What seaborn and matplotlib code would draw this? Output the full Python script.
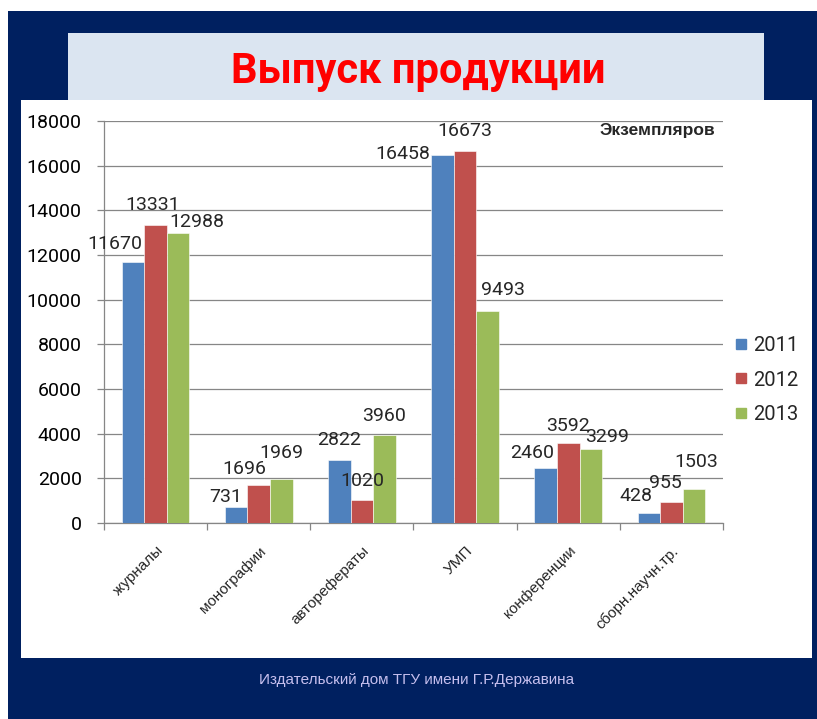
import pandas as pd
import matplotlib
matplotlib.use("Agg")
import matplotlib.pyplot as plt
from matplotlib.patches import Rectangle
from matplotlib.lines import Line2D
import seaborn as sns

categories = ["журналы", "монографии", "авторефераты", "УМП", "конференции", "сборн.научн.тр."]
years = ["2011", "2012", "2013"]
v2011 = [11670, 731, 2822, 16458, 2460, 428]
v2012 = [13331, 1696, 1020, 16673, 3592, 955]
v2013 = [12988, 1969, 3960, 9493, 3299, 1503]
yticks = list(range(0, 18001, 2000))

colors = ["#4f81bd", "#c0504d", "#9bbb59"]
navy = "#002060"

# label offsets in pixels (dx, dy above bar top), as laid out in the original
offsets = {
    "2011": [(-18, 18), (-11, 10), (0, 20), (-40, 1), (-14, 15), (-13, 17)],
    "2012": [(-3, 20), (-14, 16), (0, 19), (0, 20), (0, 17), (-6, 19)],
    "2013": [(19, 11), (0, 26), (0, 19), (15, 21), (16, 12), (2, 27)],
}

df = pd.DataFrame({
    "cat": categories * 3,
    "year": [y for y in years for _ in categories],
    "value": v2011 + v2012 + v2013,
})

sns.set_style("white")
narrow = ["Roboto", "DejaVu Sans"]
arial = ["Liberation Sans", "DejaVu Sans"]
plt.rcParams["font.family"] = narrow

W, H = 817, 719
fig = plt.figure(figsize=(W / 100, H / 100), dpi=100, facecolor="white")


def box(x0, y0, x1, y1, color):
    fig.add_artist(Rectangle((x0 / W, 1 - y1 / H), (x1 - x0) / W, (y1 - y0) / H,
                             transform=fig.transFigure, facecolor=color,
                             edgecolor="none", zorder=0))


box(8, 11, W, H, navy)
box(68, 33, 764, 100, "#dbe5f1")
box(21, 100, 812, 658, "white")

ax = fig.add_axes([104 / W, 1 - 523 / H, (723 - 104) / W, (523 - 121) / H])
ax.set_facecolor("none")
ax.set_zorder(2)

sns.barplot(data=df, x="cat", y="value", hue="year", palette=colors,
            width=0.655, gap=0, saturation=1, ax=ax, legend=False,
            edgecolor="white", linewidth=0.4, zorder=3)

ax.set_ylim(0, 18000)
ax.set_xlim(-0.5, len(categories) - 0.5)
ax.set_yticks(yticks)
ax.set_yticklabels([str(t) for t in yticks], fontsize=14)
ax.yaxis.grid(True, color="#868686", linewidth=0.9)
ax.set_axisbelow(True)
ax.set_xlabel("")
ax.set_ylabel("")

for s in ["top", "right"]:
    ax.spines[s].set_visible(False)
for s in ["left", "bottom"]:
    ax.spines[s].set_color("#868686")
    ax.spines[s].set_linewidth(0.9)

ax.tick_params(axis="y", length=5, color="#868686", width=0.9, pad=11, labelcolor="black", left=True)
ax.set_xticks(range(len(categories)))
ax.set_xticklabels(categories, rotation=45, ha="right", va="top",
                   rotation_mode="anchor", fontsize=11, family=arial)
ax.set_xticks([i - 0.5 for i in range(len(categories) + 1)], minor=True)
ax.tick_params(axis="x", which="major", length=0, pad=15)
ax.tick_params(axis="x", which="minor", length=5, color="#868686", width=0.9, bottom=True)

for container, year in zip(ax.containers, years):
    for bar, (dx, dy) in zip(container, offsets[year]):
        xc = bar.get_x() + bar.get_width() / 2
        ax.annotate(f"{int(bar.get_height())}", (xc, bar.get_height()),
                    xytext=(dx, dy), textcoords="offset pixels",
                    ha="center", va="center", fontsize=14, zorder=5)

handles = [Line2D([0], [0], marker="s", linestyle="none", markersize=7,
                  markerfacecolor=c, markeredgecolor=c) for c in colors]
fig.legend(handles, years, loc="center left", bbox_to_anchor=(731 / W, 1 - 380 / H),
           frameon=False, fontsize=14.5, handletextpad=0.1, labelspacing=0.75,
           handlelength=1.0, borderaxespad=0, borderpad=0)

fig.text(715 / W, 1 - 131 / H, "Экземпляров", ha="right", va="center",
         fontsize=12.5, fontweight="bold", family=arial)
fig.text(418 / W, 1 - 83 / H, "Выпуск продукции", ha="center", va="baseline",
         fontsize=30, fontweight="bold", color="#ff0000", family=["Roboto", "DejaVu Sans"])
fig.text(417 / W, 1 - 680 / H, "Издательский дом ТГУ имени Г.Р.Державина",
         ha="center", va="center", fontsize=11, color="#c6bfee", family=arial)

fig.savefig("out.png", dpi=100, facecolor="white")
